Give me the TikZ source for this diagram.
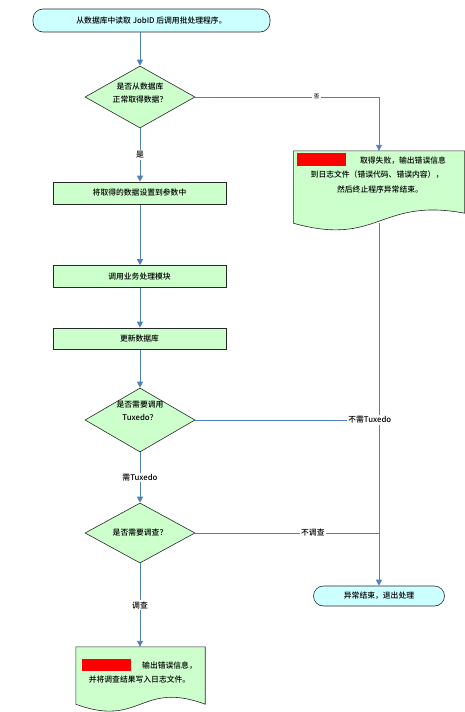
\documentclass[tikz,border=0pt]{standalone}
\usepackage{fontspec}
\newfontfamily\cjk[BoldFont={Noto Sans CJK SC Medium}]{Noto Sans CJK SC}
\usetikzlibrary{shapes.geometric,arrows.meta,calc}
\pgfdeclarelayer{bg}
\pgfsetlayers{bg,main}
\definecolor{termfill}{RGB}{204,255,255}
\definecolor{boxfill}{RGB}{204,255,204}
\definecolor{linkblue}{RGB}{79,129,189}
\definecolor{edgegray}{RGB}{40,40,40}
\begin{document}
\begin{tikzpicture}[x=1pt,y=-1pt,
  every node/.style={font=\cjk\bfseries\fontsize{7.8}{13}\selectfont, inner sep=0pt},
  term/.style={draw=edgegray, line width=0.6pt, fill=termfill, rounded corners=10pt},
  proc/.style={draw=edgegray, line width=0.6pt, fill=boxfill, minimum width=173pt, minimum height=22pt},
  decision/.style={diamond, draw=edgegray, line width=0.6pt, fill=boxfill, shape aspect=2,
    minimum width=110pt, minimum height=62pt},
  dectext/.style={align=center},
  docbox/.style={minimum width=129pt, minimum height=57pt},
  docshape/.style={draw=edgegray, line width=0.6pt, fill=boxfill},
  link/.style={draw=linkblue, line width=0.9pt},
  arr/.style={link, -{Triangle[length=6pt,width=6pt]}},
  lbl/.style={fill=white, inner sep=1.5pt},
  smalllbl/.style={fill=white, inner sep=1.5pt, font=\cjk\bfseries\fontsize{5.5}{6}\selectfont},
  redact/.style={fill=red, minimum width=49pt, minimum height=13pt}]
\useasboundingbox (0,0) rectangle (465,712);

% nodes
\node[term, minimum width=237pt, minimum height=23pt] (start) at (151.5,20.5)
  {从数据库中读取 JobID 后调用批处理程序。\hspace{24pt}};
\node[decision] (d1) at (140,97) {};
\node[dectext] (d1t) at (140,93) {是否从数据库\\正常取得数据？};
\node[proc] (b1) at (139.5,193) {将取得的数据设置到参数中};
\node[proc] (b2) at (139.5,276.5) {调用业务处理模块};
\node[proc, minimum height=21pt] (b3) at (139.5,338.5) {更新数据库};
\node[decision, minimum height=64pt] (d2) at (140,420) {};
\node[dectext] (d2t) at (140,411) {是否需要调用\\Tuxedo？};
\node[decision, minimum height=60pt] (d3) at (140,533) {};
\node[dectext] (d3t) at (140,533) {是否需要调查？};
\node[docbox] (doc2) at (140.5,675.5) {};
\node[docbox, minimum width=171pt, minimum height=72pt] (doc1) at (379,187) {};
\node[term, minimum width=131pt, minimum height=20pt] (end) at (379,596) {异常结束，退出处理};

% document shapes
\draw[docshape] (doc1.north west) -- (doc1.north east) -- ($(doc1.south east)+(0,-10)$)
  .. controls ($(doc1.south)+(0,-26)$) and ($(doc1.south)+(0,24)$) .. (doc1.south west) -- cycle;
\draw[docshape] (doc2.north west) -- (doc2.north east) -- (doc2.south east)
  .. controls ($(doc2.south)+(0,-24)$) and ($(doc2.south)+(0,24)$) .. (doc2.south west) -- cycle;

% document contents
\node[redact] (r1) at (321.5,159.5) {};
\node (t11) at (403,161) {取得失败，输出错误信息};
\node (t12) at (377,175) {到日志文件（错误代码、错误内容），};
\node (t13) at (380,190) {然后终止程序异常结束。};
\node[redact, minimum height=12pt] (r2) at (106.5,665) {};
\node (t21) at (169.5,666) {输出错误信息，};
\node (t22) at (139.5,680) {并将调查结果写入日志文件。};

% connectors
\begin{pgfonlayer}{bg}
\draw[arr] (start.south -| d1.north) -- (d1.north);
\draw[arr] (d1.south) -- node[lbl] (ly1) {是} (d1.south |- b1.north);
\draw[arr] (b1.south -| d1.south) -- (d1.south |- b2.north);
\draw[arr] (b2.south -| d1.south) -- (d1.south |- b3.north);
\draw[arr] (b3.south -| d2.north) -- (d2.north);
\draw[arr] (d2.south) -- node[lbl] (ly2) {需Tuxedo} (d3.north);
\draw[arr] (d3.south) -- node[lbl] (ly3) {调查} (d3.south |- doc2.north);
\draw[arr] (d1.east) -| node[smalllbl, pos=0.33] (ln1) {否} (doc1.north);
\draw[arr] (doc1.south) -- (doc1.south |- end.north);
\draw[link] (d2.east) -- node[lbl, pos=0.95] (ln2) {不需Tuxedo} (d2.east -| doc1.south);
\draw[link] (d3.east) -- node[lbl, pos=0.64] (ln3) {不调查} (d3.east -| doc1.south);
\end{pgfonlayer}
\end{tikzpicture}
\end{document}
